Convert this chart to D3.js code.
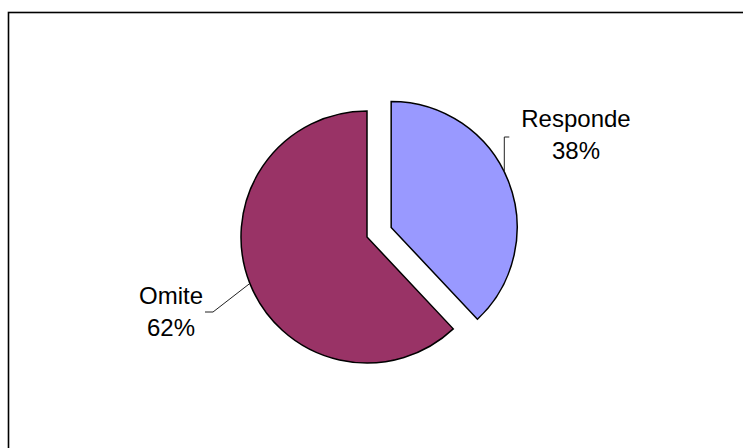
<!DOCTYPE html>
<html>
<head>
<meta charset="utf-8">
<script src="https://cdn.jsdelivr.net/npm/d3@7"></script>
<style>
  html, body { margin: 0; padding: 0; background: #fff; }
  svg { display: block; }
  text { font-family: Arial, "Liberation Sans", sans-serif; fill: #000; }
</style>
</head>
<body>
<svg id="chart" width="743" height="448"></svg>
<script>
// Survey answers: share of respondents who answered vs. skipped
const categories = ["Responde", "Omite"];
const values = [38, 62];
const percentLabels = ["38%", "62%"];
const colors = ["#9999FF", "#993366"];

const W = 743, H = 448;
const cx = 367, cy = 237, radius = 126;
const explode = 26;           // offset of the pulled-out slice
const explodedIndex = 0;

const svg = d3.select("#chart");

// Chart area frame
svg.append("rect")
  .attr("x", 8.5).attr("y", 12.5)
  .attr("width", W).attr("height", H)
  .attr("fill", "none")
  .attr("stroke", "#000")
  .attr("stroke-width", 1.6);

const pie = d3.pie().sort(null).value(d => d)(values);
const arc = d3.arc().innerRadius(0).outerRadius(radius);

const offsetOf = (d, i) => {
  if (i !== explodedIndex) return [0, 0];
  const a = (d.startAngle + d.endAngle) / 2;
  return [Math.sin(a) * explode, -Math.cos(a) * explode];
};

const g = svg.append("g").attr("transform", `translate(${cx},${cy})`);

g.selectAll("path.slice")
  .data(pie)
  .join("path")
  .attr("class", "slice")
  .attr("transform", (d, i) => { const o = offsetOf(d, i); return `translate(${o[0]},${o[1]})`; })
  .attr("d", arc)
  .attr("fill", (d, i) => colors[i])
  .attr("stroke", "#000")
  .attr("stroke-width", 1.5)
  .attr("stroke-linejoin", "miter");

// Label placement (text centre, line gap) and leader lines
const labelLayout = [
  { tx: 576, ty: 127, leaderAngle: 1.115, elbow: (p) => [[p[0], p[1]], [p[0], 137 - cy], [p[0] + 5, 137 - cy]] },
  { tx: 171, ty: 304, leaderAngle: 4.335, elbow: (p) => [[p[0], p[1]], [213 - cx, 312 - cy], [205 - cx, 312 - cy]] }
];

pie.forEach((d, i) => {
  const o = offsetOf(d, i);
  const L = labelLayout[i];
  const a = L.leaderAngle;
  const p = [o[0] + Math.sin(a) * radius, o[1] - Math.cos(a) * radius];
  g.append("path")
    .attr("d", d3.line()(L.elbow(p)))
    .attr("fill", "none")
    .attr("stroke", "#222")
    .attr("stroke-width", 1);

  const t = svg.append("text")
    .attr("x", L.tx).attr("y", L.ty)
    .attr("text-anchor", "middle")
    .style("font-size", "24px");
  t.append("tspan").attr("x", L.tx).text(categories[i]);
  t.append("tspan").attr("x", L.tx).attr("dy", 32).text(percentLabels[i]);
});
</script>
</body>
</html>
